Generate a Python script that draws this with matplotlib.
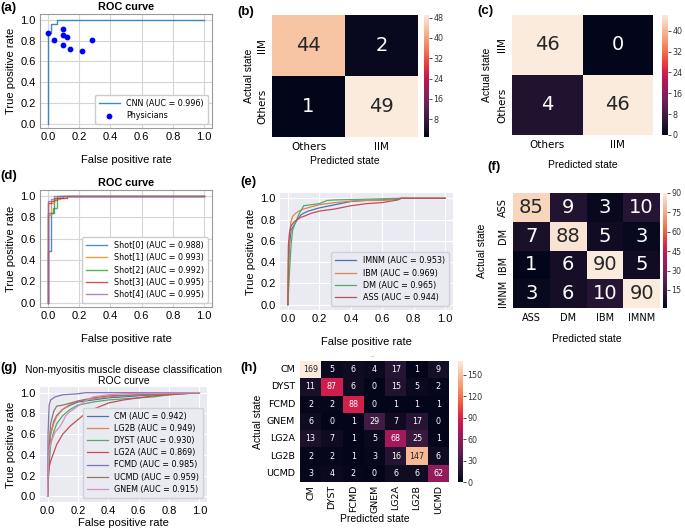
import matplotlib
matplotlib.use("Agg")
import matplotlib.pyplot as plt
import seaborn as sns
import numpy as np

# ---- data ----
# (a) CNN ROC + physicians
cnn_fpr = [0, 0, 0.02, 0.02, 0.06, 0.06, 1.0]
cnn_tpr = [0, 0.87, 0.87, 0.96, 0.96, 1.0, 1.0]
phys_fpr = [0.0, 0.04, 0.10, 0.10, 0.12, 0.10, 0.14, 0.22, 0.28]
phys_tpr = [0.87, 0.81, 0.91, 0.85, 0.83, 0.76, 0.72, 0.70, 0.81]

# (b), (c) binary confusion matrices
bin_labels_x = ["Others", "IIM"]
bin_labels_y = ["IIM", "Others"]
cm_b = [[44, 2], [1, 49]]
cm_c = [[46, 0], [4, 46]]

# (d) five shots
shot_names = ["Shot[0] (AUC = 0.988)", "Shot[1] (AUC = 0.993)", "Shot[2] (AUC = 0.992)",
              "Shot[3] (AUC = 0.995)", "Shot[4] (AUC = 0.995)"]
shot_fpr = [
    [0, 0, 0.02, 0.02, 0.04, 0.04, 0.06, 0.06, 0.10, 0.10, 1.0],
    [0, 0, 0.02, 0.02, 0.04, 0.04, 0.08, 0.08, 1.0],
    [0, 0, 0.035, 0.035, 0.06, 0.06, 1.0],
    [0, 0, 0.02, 0.02, 0.04, 0.04, 0.12, 0.12, 1.0],
    [0, 0, 0.02, 0.02, 0.04, 0.04, 1.0],
]
shot_tpr = [
    [0, 0.48, 0.48, 0.84, 0.84, 0.96, 0.96, 0.98, 0.98, 1.0, 1.0],
    [0, 0.82, 0.82, 0.93, 0.93, 0.97, 0.97, 1.0, 1.0],
    [0, 0.84, 0.84, 0.89, 0.89, 1.0, 1.0],
    [0, 0.93, 0.93, 0.95, 0.95, 0.98, 0.98, 1.0, 1.0],
    [0, 0.95, 0.95, 0.97, 0.97, 1.0, 1.0],
]

# (e) myositis subtypes
e_names = ["IMNM (AUC = 0.953)", "IBM (AUC = 0.969)", "DM (AUC = 0.965)", "ASS (AUC = 0.944)"]
e_fpr = [
    [0, 0.005, 0.01, 0.02, 0.04, 0.06, 0.08, 0.10, 0.13, 0.20, 0.30, 0.40, 0.50, 0.60, 0.70, 0.72, 1.0],
    [0, 0.003, 0.01, 0.02, 0.03, 0.05, 0.07, 0.10, 0.15, 0.20, 0.30, 0.45, 0.60, 0.72, 1.0],
    [0, 0.01, 0.02, 0.03, 0.05, 0.07, 0.09, 0.10, 0.15, 0.20, 0.25, 0.30, 0.45, 0.72, 1.0],
    [0, 0.003, 0.01, 0.02, 0.04, 0.06, 0.08, 0.10, 0.15, 0.20, 0.30, 0.40, 0.50, 0.60, 0.70, 0.72, 1.0],
]
e_tpr = [
    [0, 0.35, 0.55, 0.70, 0.75, 0.80, 0.84, 0.86, 0.88, 0.91, 0.94, 0.97, 0.98, 0.985, 0.99, 1.0, 1.0],
    [0, 0.40, 0.65, 0.78, 0.83, 0.86, 0.88, 0.90, 0.92, 0.94, 0.96, 0.98, 0.98, 1.0, 1.0],
    [0, 0.30, 0.55, 0.70, 0.78, 0.85, 0.90, 0.93, 0.94, 0.95, 0.98, 0.985, 0.99, 1.0, 1.0],
    [0, 0.55, 0.68, 0.74, 0.78, 0.80, 0.82, 0.83, 0.86, 0.88, 0.90, 0.93, 0.95, 0.96, 0.985, 1.0, 1.0],
]

# (f) 4-class confusion matrix
f_labels = ["ASS", "DM", "IBM", "IMNM"]
cm_f = [[85, 9, 3, 10], [7, 88, 5, 3], [1, 6, 90, 5], [3, 6, 10, 90]]

# (g) non-myositis ROC
g_names = ["CM (AUC = 0.942)", "LG2B (AUC = 0.949)", "DYST (AUC = 0.930)", "LG2A (AUC = 0.869)",
           "FCMD (AUC = 0.985)", "UCMD (AUC = 0.959)", "GNEM (AUC = 0.915)"]
g_fpr = [
    [0, 0.01, 0.02, 0.04, 0.06, 0.10, 0.15, 0.20, 0.30, 0.40, 0.50, 0.60, 0.80, 1.0],
    [0, 0.01, 0.02, 0.04, 0.06, 0.10, 0.15, 0.20, 0.30, 0.40, 0.60, 1.0],
    [0, 0.01, 0.02, 0.04, 0.06, 0.10, 0.15, 0.20, 0.30, 0.40, 0.50, 0.60, 0.70, 0.80, 1.0],
    [0, 0.005, 0.01, 0.02, 0.04, 0.06, 0.08, 0.10, 0.15, 0.20, 0.25, 0.30, 0.40, 0.50, 0.60, 0.70, 0.80, 0.90, 1.0],
    [0, 0.003, 0.01, 0.02, 0.05, 0.10, 0.20, 0.25, 1.0],
    [0, 0.005, 0.01, 0.02, 0.04, 0.06, 0.10, 0.15, 0.20, 0.30, 0.40, 0.60, 1.0],
    [0, 0.005, 0.01, 0.03, 0.05, 0.08, 0.10, 0.12, 0.15, 0.20, 0.25, 0.30, 0.40, 0.50, 1.0],
]
g_tpr = [
    [0, 0.40, 0.60, 0.72, 0.78, 0.84, 0.88, 0.91, 0.93, 0.95, 0.96, 0.97, 0.99, 1.0],
    [0, 0.45, 0.60, 0.70, 0.77, 0.84, 0.89, 0.92, 0.94, 0.96, 0.98, 1.0],
    [0, 0.30, 0.50, 0.62, 0.70, 0.78, 0.84, 0.88, 0.91, 0.93, 0.94, 0.95, 0.96, 0.98, 1.0],
    [0, 0.20, 0.28, 0.34, 0.42, 0.50, 0.55, 0.60, 0.68, 0.74, 0.80, 0.84, 0.90, 0.93, 0.95, 0.97, 0.98, 0.99, 1.0],
    [0, 0.60, 0.88, 0.93, 0.96, 0.98, 0.99, 1.0, 1.0],
    [0, 0.30, 0.50, 0.70, 0.82, 0.87, 0.88, 0.90, 0.92, 0.95, 0.97, 0.98, 1.0],
    [0, 0.35, 0.45, 0.55, 0.62, 0.67, 0.72, 0.78, 0.82, 0.87, 0.92, 0.96, 0.98, 0.99, 1.0],
]

# (h) 7-class confusion matrix
h_labels = ["CM", "DYST", "FCMD", "GNEM", "LG2A", "LG2B", "UCMD"]
cm_h = [[169, 5, 6, 4, 17, 1, 9],
        [11, 87, 6, 0, 15, 5, 2],
        [2, 2, 88, 0, 1, 1, 1],
        [6, 0, 1, 29, 7, 17, 0],
        [13, 7, 1, 5, 68, 25, 1],
        [2, 2, 1, 3, 16, 147, 6],
        [3, 4, 2, 0, 6, 6, 62]]

# ---- figure ----
plt.rcParams['font.family'] = ['Liberation Sans', 'DejaVu Sans']
W, H = 685, 529
fig = plt.figure(figsize=(W / 100, H / 100), dpi=100)


def box(l, t, r, b):
    return [l / W, 1 - b / H, (r - l) / W, (b - t) / H]


tab = plt.rcParams['axes.prop_cycle'].by_key()['color']
deep = sns.color_palette("deep")


def white_roc(ax):
    ax.set_facecolor("white")
    ax.grid(True, color="#d5d5d5", lw=0.8)
    ax.set_axisbelow(True)
    for s in ax.spines.values():
        s.set_color("#9a9a9a")
        s.set_linewidth(0.8)


def dark_roc(ax):
    ax.set_facecolor("#EAEAF2")
    ax.grid(True, color="white", lw=0.8)
    ax.set_axisbelow(True)
    for s in ax.spines.values():
        s.set_visible(False)


def roc_axes(ax, lp=9):
    ax.set_xlim(-0.05, 1.05)
    ax.set_ylim(-0.04, 1.055)
    ax.set_xticks(np.arange(0, 1.01, 0.2))
    ax.set_yticks(np.arange(0, 1.01, 0.2))
    ax.tick_params(length=0, labelsize=8, pad=3)
    ax.set_xlabel("False positive rate", fontsize=8, labelpad=lp)
    ax.set_ylabel("True positive rate", fontsize=8, labelpad=3)


def heat(ax, cax, data, xl, yl, vmin, vmax, ticks, asize, rotx=0, roty=90, tsize=7.5):
    sns.heatmap(data, ax=ax, cbar_ax=cax, annot=True, fmt="d", cmap="rocket",
                vmin=vmin, vmax=vmax, xticklabels=xl, yticklabels=yl,
                annot_kws={"size": asize, "family": "DejaVu Sans"})
    ax.tick_params(length=0, labelsize=tsize)
    plt.setp(ax.get_xticklabels(), rotation=rotx, family="DejaVu Sans")
    plt.setp(ax.get_yticklabels(), rotation=roty, va="center", family="DejaVu Sans")
    cax.set_yticks(ticks)
    cax.tick_params(length=2, width=0.6, labelsize=5.8, pad=1, colors="#333333")
    plt.setp(cax.get_yticklabels(), family="DejaVu Sans")


leg_kw = dict(prop={"family": "DejaVu Sans", "size": 5.8}, handlelength=2.6,
              labelspacing=0.4, borderpad=0.5, framealpha=1)

# (a)
ax = fig.add_axes(box(40, 14, 212, 128))
white_roc(ax)
ax.plot(cnn_fpr, cnn_tpr, color=tab[0], lw=1, alpha=0.85, label="CNN (AUC = 0.996)")
ax.scatter(phys_fpr, phys_tpr, color="blue", s=10, zorder=3, label="Physicians")
roc_axes(ax)
ax.set_title("ROC curve", fontsize=7.8, fontweight="bold", pad=3)
ax.legend(loc="lower right", scatterpoints=1, edgecolor="#cccccc", **leg_kw)

# (b)
ax = fig.add_axes(box(272, 15, 418, 137))
cax = fig.add_axes(box(424, 15, 429, 137))
heat(ax, cax, cm_b, bin_labels_x, bin_labels_y, 1, 49, [8, 16, 24, 32, 40, 48], 14)
ax.set_xlabel("Predicted state", fontsize=7.5, labelpad=3)
ax.set_ylabel("Actual state", fontsize=7.5, labelpad=2)

# (c)
ax = fig.add_axes(box(512, 15, 653, 135))
cax = fig.add_axes(box(662, 15, 668, 135))
heat(ax, cax, cm_c, bin_labels_x, bin_labels_y, 0, 46, [0, 8, 16, 24, 32, 40], 14)
ax.set_xlabel("Predicted state", fontsize=7.5, labelpad=7)
ax.set_ylabel("Actual state", fontsize=7.5, labelpad=4)

# (d)
ax = fig.add_axes(box(40, 190, 212, 307))
white_roc(ax)
for i in range(5):
    ax.plot(shot_fpr[i], shot_tpr[i], color=tab[i], lw=1, alpha=0.8, label=shot_names[i])
roc_axes(ax)
ax.set_title("ROC curve", fontsize=7.8, fontweight="bold", pad=3)
ax.legend(loc="lower right", edgecolor="#cccccc", **leg_kw)

# (e)
ax = fig.add_axes(box(280, 193, 453, 310))
dark_roc(ax)
for i in range(4):
    ax.plot(e_fpr[i], e_tpr[i], color=deep[i], lw=0.9, label=e_names[i])
roc_axes(ax, lp=9)
ax.set_ylim(-0.05, 1.05)
ax.legend(loc="lower right", facecolor="#EAEAF2", edgecolor="#d0d0d8", **leg_kw)

# (f)
ax = fig.add_axes(box(513, 193, 660, 308))
cax = fig.add_axes(box(663, 193, 667, 308))
heat(ax, cax, cm_f, f_labels, f_labels, 1, 90, [15, 30, 45, 60, 75, 90], 14, tsize=7)
ax.set_xlabel("Predicted state", fontsize=7.5, labelpad=8)
ax.set_ylabel("Actual state", fontsize=7.5, labelpad=8)

# (g)
ax = fig.add_axes(box(40, 387, 207, 502))
dark_roc(ax)
for i in range(7):
    ax.plot(g_fpr[i], g_tpr[i], color=deep[i], lw=0.9, label=g_names[i])
roc_axes(ax, lp=1.5)
ax.set_ylim(-0.055, 1.055)
ax.set_title("Non-myositis muscle disease classification\nROC curve", fontsize=7.5,
             linespacing=1.15, pad=2)
ax.legend(loc="lower right", facecolor="#EAEAF2", edgecolor="#d0d0d8", **leg_kw)

# (h)
ax = fig.add_axes(box(300, 361, 449, 482))
cax = fig.add_axes(box(458, 361, 463, 482))
heat(ax, cax, cm_h, h_labels, h_labels, 0, 169, [0, 30, 60, 90, 120, 150], 5.8,
     rotx=90, roty=0, tsize=6.8)
ax.tick_params(axis="x", pad=2)
ax.set_xlabel("Predicted state", fontsize=7.5, labelpad=0.5)
ax.set_ylabel("Actual state", fontsize=7.5, labelpad=2)
fig.text(371.7 / W, 1 - 357 / H, "_", fontsize=4, color="#888888", ha="center", va="bottom")

# panel letters
for lab, x, y in [("(a)", 0, 8), ("(b)", 237, 12), ("(c)", 477, 11), ("(d)", 0, 176),
                  ("(e)", 240, 182), ("(f)", 487, 167), ("(g)", 0, 368), ("(h)", 240, 368)]:
    fig.text(x / W, 1 - y / H, lab, fontsize=9.5, fontweight="bold", ha="left", va="center")

fig.savefig("out.png", dpi=100)
